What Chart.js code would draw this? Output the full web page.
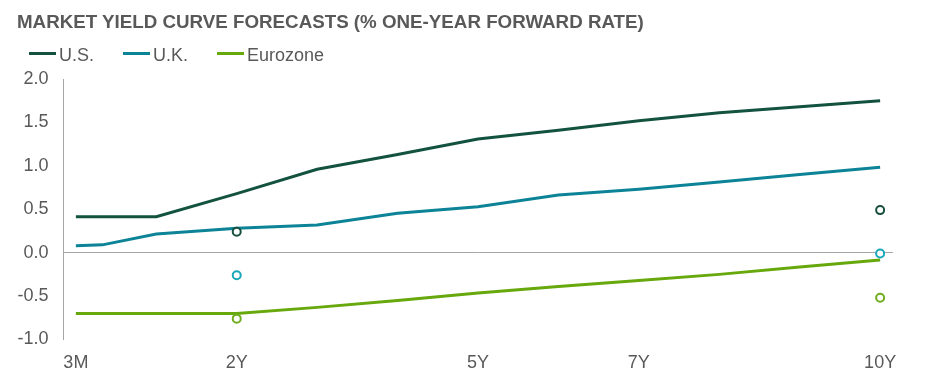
<!DOCTYPE html>
<html>
<head>
<meta charset="utf-8">
<script src="https://cdn.jsdelivr.net/npm/chart.js@4"></script>
<style>
  html, body { margin: 0; padding: 0; background: #fff; }
  #wrap { position: relative; width: 939px; height: 377px; overflow: hidden; font-family: "Liberation Sans", Arial, sans-serif; }
  #title { position: absolute; left: 17px; top: 12.5px; font-size: 18.75px; line-height: 1; font-weight: bold; color: #595959; white-space: nowrap; }
  #legend { position: absolute; left: 29px; top: 45.5px; display: flex; font-size: 18px; line-height: 1; color: #595959; white-space: nowrap; }
  .item { display: flex; align-items: flex-start; margin-right: 29px; }
  .swatch { width: 27px; height: 3px; margin-top: 6.5px; margin-right: 3px; }
  #c { position: absolute; left: 0; top: 0; }
</style>
</head>
<body>
<div id="wrap">
  <canvas id="c" width="939" height="377"></canvas>
  <div id="title">MARKET YIELD CURVE FORECASTS (% ONE-YEAR FORWARD RATE)</div>
  <div id="legend"></div>
</div>
<script>
// ---- data ----
const tickValues = [0, 2, 5, 7, 10];
const tickLabels = ['3M', '2Y', '5Y', '7Y', '10Y'];

const usX = [0, 1, 2, 3, 4, 5, 6, 7, 8, 9, 10];
const usY = [0.415, 0.415, 0.68, 0.96, 1.13, 1.31, 1.41, 1.52, 1.61, 1.68, 1.75];

const ukX = [0, 0.33, 1, 2, 3, 4, 5, 6, 7, 8, 9, 10];
const ukY = [0.08, 0.09, 0.215, 0.28, 0.32, 0.455, 0.53, 0.665, 0.73, 0.815, 0.9, 0.985];

const ezX = [0, 1, 2, 3, 4, 5, 6, 7, 8, 9, 10];
const ezY = [-0.70, -0.70, -0.70, -0.63, -0.55, -0.465, -0.39, -0.32, -0.25, -0.165, -0.085];

const dotX = [2, 10];
const usDots = [0.24, 0.49];
const ukDots = [-0.26, -0.01];
const ezDots = [-0.76, -0.52];

const seriesNames = ['U.S.', 'U.K.', 'Eurozone'];
const lineColors = ['#12523f', '#0c8397', '#67a80c'];
const dotColors = ['#174f3e', '#18a8b9', '#6fad1e'];

// ---- build ----
const pts = (xs, ys) => xs.map((x, i) => ({ x: x, y: ys[i] }));
const lines = [pts(usX, usY), pts(ukX, ukY), pts(ezX, ezY)];
const dots = [pts(dotX, usDots), pts(dotX, ukDots), pts(dotX, ezDots)];

const datasets = [];
for (let i = 0; i < 3; i++) {
  datasets.push({
    type: 'line', label: seriesNames[i], data: lines[i],
    borderColor: lineColors[i], borderWidth: 3, pointRadius: 0, fill: false,
    tension: 0, order: 2
  });
}
for (let i = 0; i < 3; i++) {
  datasets.push({
    type: 'scatter', label: seriesNames[i] + ' dots', data: dots[i],
    borderColor: dotColors[i], backgroundColor: '#ffffff', borderWidth: 2,
    pointRadius: 4, order: 1
  });
}

// legend
const lg = document.getElementById('legend');
seriesNames.forEach((n, i) => {
  const it = document.createElement('div'); it.className = 'item';
  const sw = document.createElement('div'); sw.className = 'swatch'; sw.style.background = lineColors[i];
  const tx = document.createElement('span'); tx.textContent = n;
  it.appendChild(sw); it.appendChild(tx); lg.appendChild(it);
});

const FONT = "'Liberation Sans', Arial, sans-serif";
new Chart(document.getElementById('c'), {
  data: { datasets },
  options: {
    responsive: false, animation: false,
    layout: { padding: { left: 0, top: 79, right: 46, bottom: 0 } },
    plugins: { legend: { display: false }, title: { display: false }, tooltip: { enabled: false } },
    scales: {
      x: {
        type: 'linear', min: -0.16, max: 10.16,
        afterFit: s => { s.height = 37.5; },
        afterBuildTicks: s => { s.ticks = tickValues.map(v => ({ value: v })); },
        ticks: {
          autoSkip: false, maxRotation: 0, padding: 13,
          color: '#595959', font: { family: FONT, size: 18 },
          callback: v => { const k = tickValues.indexOf(v); return k >= 0 ? tickLabels[k] : ''; }
        },
        grid: { display: false, drawTicks: false },
        border: { display: false }
      },
      y: {
        type: 'linear', min: -1, max: 2,
        afterFit: s => { s.width = 63; },
        ticks: {
          stepSize: 0.5, padding: 14.5,
          color: '#595959', font: { family: FONT, size: 18 },
          callback: v => v.toFixed(1)
        },
        grid: {
          drawTicks: false, lineWidth: 1,
          color: ctx => (ctx.tick && ctx.tick.value === 0) ? '#a6a6a6' : 'rgba(0,0,0,0)'
        },
        border: { display: true, color: '#a6a6a6', width: 1 }
      }
    }
  }
});
</script>
</body>
</html>
